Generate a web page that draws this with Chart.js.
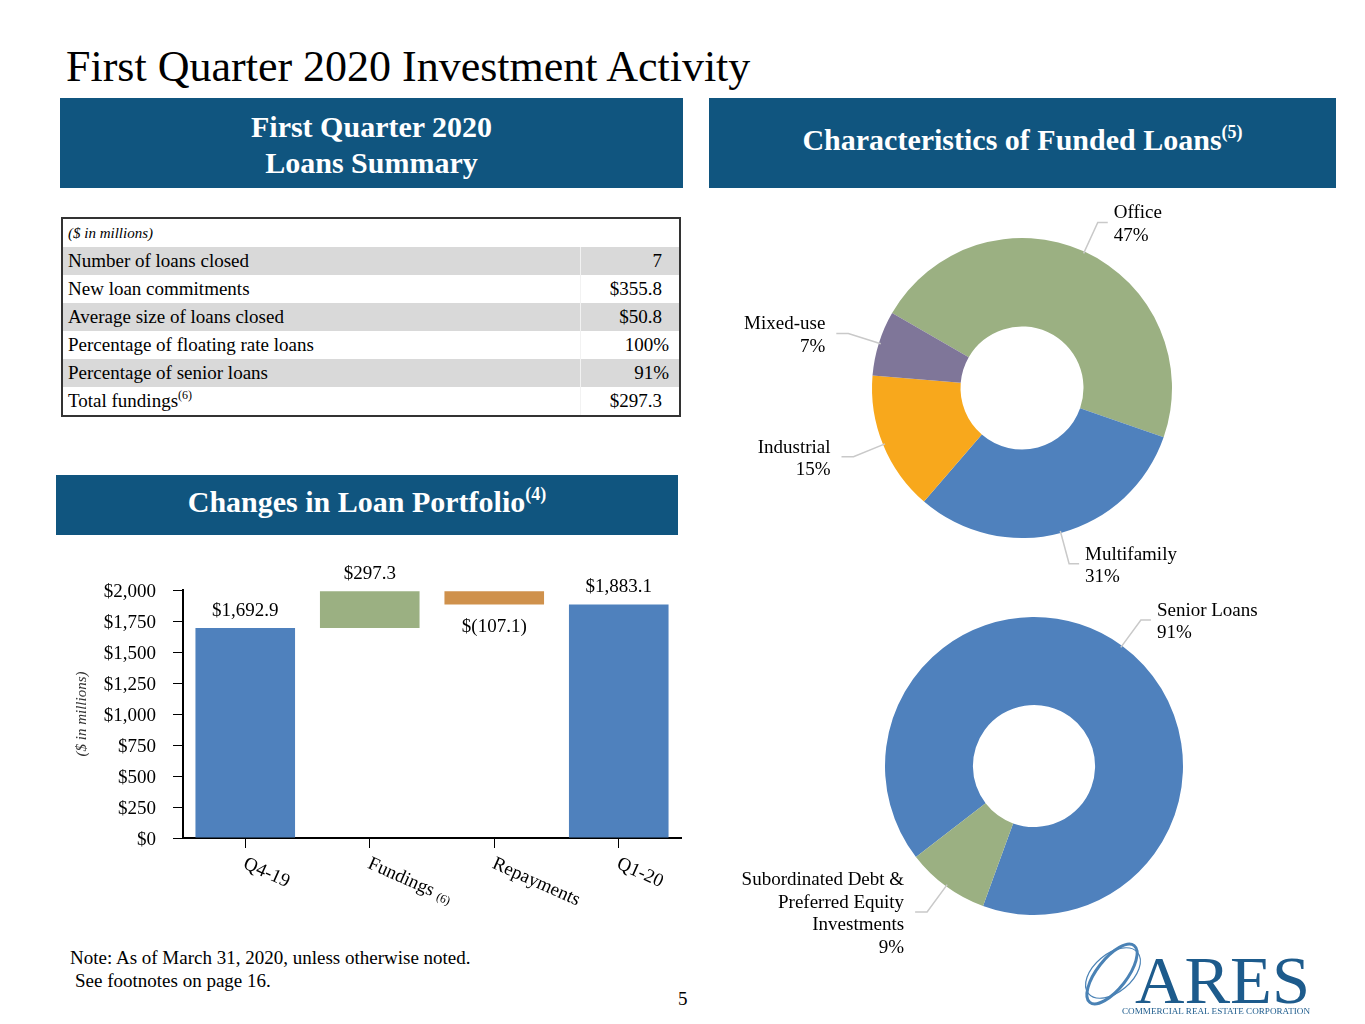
<!DOCTYPE html>
<html><head><meta charset="utf-8">
<script src="https://cdn.jsdelivr.net/npm/chart.js@4.4.1/dist/chart.umd.min.js"></script>
<style>
html,body{margin:0;padding:0;background:#fff;}
body{width:1365px;height:1024px;position:relative;overflow:hidden;font-family:"Liberation Serif","Times New Roman",serif;color:#000;}
.abs{position:absolute;}
.title{left:66px;top:41px;font-size:44px;line-height:52px;white-space:nowrap;}
.hdr{position:absolute;box-sizing:border-box;background:#10557f;color:#fff;font-weight:bold;font-size:30px;text-align:center;display:flex;flex-direction:column;justify-content:center;white-space:nowrap;}
.hdr sup{font-size:18px;vertical-align:12px;line-height:0;}
table.sum{position:absolute;left:61px;top:217px;width:620px;border:2px solid #333;border-collapse:collapse;font-size:19px;}
table.sum td{padding:0 0 0 5px;height:28px;line-height:28px;white-space:nowrap;}
table.sum td.v{text-align:right;padding:0 17px 0 0;width:81px;border-left:1px solid #f2f2f2;}
table.sum td.p{padding-right:10px;width:88px;}
table.sum tr.sh td{background:#d9d9d9;}
table.sum td.hd{font-style:italic;font-size:15px;}
table.sum sup{font-size:12px;vertical-align:8px;line-height:0;}
.note{font-size:19px;white-space:nowrap;}
canvas{position:absolute;}
</style>
</head><body>
<div class="abs title">First Quarter 2020 Investment Activity</div>
<div class="hdr" style="left:60px;top:98px;width:623px;height:90px;line-height:36px;padding-top:4px;"><div>First Quarter 2020</div><div>Loans Summary</div></div>
<div class="hdr" style="left:709px;top:98px;width:627px;height:90px;padding-bottom:6px;"><div>Characteristics of Funded Loans<sup>(5)</sup></div></div>
<div class="hdr" style="left:56px;top:475px;width:622px;height:60px;padding-bottom:6px;"><div>Changes in Loan Portfolio<sup>(4)</sup></div></div>

<table class="sum" id="sumTable"></table>

<canvas id="bar" width="630" height="365" style="left:60px;top:555px;"></canvas>
<canvas id="d1" width="627" height="395" style="left:709px;top:195px;"></canvas>
<canvas id="d2" width="627" height="365" style="left:709px;top:595px;"></canvas>

<div class="abs note" style="left:70px;top:947px;">Note: As of March 31, 2020, unless otherwise noted.</div>
<div class="abs note" style="left:75px;top:970px;">See footnotes on page 16.</div>
<div class="abs note" style="left:678px;top:988px;">5</div>

<svg class="abs" style="left:1078px;top:935px" width="250" height="85" viewBox="0 0 250 85">
 <g fill="none" stroke="#4a82b5">
  <ellipse cx="34" cy="39" rx="15" ry="36" transform="rotate(38 34 39)" stroke-width="3"/>
  <ellipse cx="35" cy="38" rx="19" ry="32" transform="rotate(50 35 38)" stroke-width="1.2"/>
 </g>
 <text x="57" y="68" font-family="Liberation Serif" font-size="68" fill="#1d5b8c" textLength="175" lengthAdjust="spacingAndGlyphs">ARES</text>
 <text x="44" y="79" font-family="Liberation Serif" font-size="7.5" fill="#1d5b8c" textLength="188" lengthAdjust="spacingAndGlyphs">COMMERCIAL REAL ESTATE CORPORATION</text>
</svg>

<script>
// ---------- Loans summary table ----------
const summaryLabels = ['Number of loans closed','New loan commitments','Average size of loans closed','Percentage of floating rate loans','Percentage of senior loans','Total fundings'];
const summaryValues = ['7','$355.8','$50.8','100%','91%','$297.3'];
const summaryNotes = ['','','','','','(6)'];

// ---------- Changes in loan portfolio ----------
const barCategories = ['Q4-19','Fundings','Repayments','Q1-20'];
const barCategoryNotes = ['','(6)','',''];
const barValues = [1692.9, 297.3, -107.1, 1883.1];
const barIsTotal = [true, false, false, true];
const barColors = ['#4f81bd','#9bb082','#cf914c','#4f81bd'];
const yTicksMax = 2000;
const yTicksStep = 250;

// ---------- Characteristics of funded loans ----------
const propertyTypes = [['Office'],['Multifamily'],['Industrial'],['Mixed-use']];
const propertyPct = [47, 31, 15, 7];
const propertyColors = ['#9bb082','#4f81bd','#f8a81c','#7f7699'];

const loanTypes = [['Senior Loans'],['Subordinated Debt &','Preferred Equity','Investments']];
const loanTypePct = [91, 9];
const loanTypeColors = ['#4f81bd','#9bb082'];

// build table
(function(){
  const t = document.getElementById('sumTable');
  let html = '<tr><td class="hd" colspan="2">($ in millions)</td></tr>';
  summaryLabels.forEach((l,i)=>{
    const pc = summaryValues[i].endsWith('%') ? ' p' : '';
    const note = summaryNotes[i] ? '<sup>'+summaryNotes[i]+'</sup>' : '';
    html += '<tr class="'+(i%2===0?'sh':'')+'"><td>'+l+note+'</td><td class="v'+pc+'">'+summaryValues[i]+'</td></tr>';
  });
  t.innerHTML = html;
})();

const FONT = '"Liberation Serif", "Times New Roman", serif';

// floating data for waterfall
const floatData = [];
let running = 0;
barValues.forEach((v,i)=>{
  if (barIsTotal[i]) { floatData.push([0, v]); running = v; }
  else { floatData.push([running, running + v]); running += v; }
});
function fmtMoney(v){
  if (v < 0) return '$(' + Math.abs(v).toFixed(1) + ')';
  return '$' + v.toLocaleString('en-US',{minimumFractionDigits:1, maximumFractionDigits:1});
}

const barLabelPlugin = {
  id:'barLabels',
  afterDatasetsDraw(chart){
    const ctx = chart.ctx;
    const meta = chart.getDatasetMeta(0);
    ctx.save();
    ctx.font = '19px ' + FONT;
    ctx.fillStyle = '#000';
    ctx.textAlign = 'center';
    ctx.textBaseline = 'middle';
    meta.data.forEach((bar,i)=>{
      const top = Math.min(bar.y, bar.base), bot = Math.max(bar.y, bar.base);
      const y = barValues[i] < 0 ? bot + 23 : top - 17;
      ctx.fillText(fmtMoney(barValues[i]), bar.x, y);
    });
    ctx.restore();
  },
  afterDraw(chart){
    const ctx = chart.ctx;
    const xs = chart.scales.x;
    const ang = 24 * Math.PI / 180;
    ctx.save();
    ctx.fillStyle = '#000';
    ctx.textAlign = 'left';
    ctx.textBaseline = 'middle';
    barCategories.forEach((c,i)=>{
      const x = xs.getPixelForValue(i);
      ctx.save();
      ctx.translate(x - 1, chart.chartArea.bottom + 25);
      ctx.rotate(ang);
      ctx.font = '19px ' + FONT;
      ctx.fillText(c, 0, 0);
      if (barCategoryNotes[i]) {
        const w = ctx.measureText(c).width;
        ctx.font = '12px ' + FONT;
        ctx.fillText(barCategoryNotes[i], w + 5, 3);
      }
      ctx.restore();
    });
    ctx.restore();
  }
};

new Chart(document.getElementById('bar'), {
  type:'bar',
  data:{
    labels: barCategories,
    datasets:[{data: floatData, backgroundColor: barColors, borderWidth:0, barPercentage:0.8, categoryPercentage:1.0}]
  },
  options:{
    responsive:false, animation:false,
    layout:{padding:{top:35, right:9, left:0, bottom:0}},
    plugins:{legend:{display:false}, tooltip:{enabled:false}},
    scales:{
      x:{
        grid:{display:true, drawOnChartArea:false, drawTicks:true, tickLength:10, offset:false, color:'#000', lineWidth:1},
        border:{display:true, color:'#000', width:2},
        ticks:{color:'rgba(0,0,0,0)', maxRotation:0, autoSkip:false, font:{family:FONT, size:19}},
        afterFit(s){ s.height = 82; }
      },
      y:{
        min:0, max:yTicksMax,
        grid:{display:true, drawOnChartArea:false, drawTicks:true, tickLength:10, color:'#000', lineWidth:1},
        border:{display:true, color:'#000', width:2},
        ticks:{stepSize:yTicksStep, padding:17, labelOffset:2, color:'#000', font:{family:FONT, size:19},
          callback:v=>'$'+Number(v).toLocaleString('en-US')},
        title:{display:true, text:'($ in millions)', color:'#333', padding:{top:13,bottom:0}, font:{family:FONT, size:15, style:'italic'}},
        afterFit(s){ s.width = 123; }
      }
    }
  },
  plugins:[barLabelPlugin]
});

// doughnut leader labels
const leaderPlugin = {
  id:'leaders',
  afterDatasetsDraw(chart, args, opts){
    const ctx = chart.ctx;
    const meta = chart.getDatasetMeta(0);
    const names = opts.names, pcts = opts.pcts;
    meta.data.forEach((arc,i)=>{
      const p = arc.getProps(['x','y','startAngle','endAngle','outerRadius'], true);
      const mid = (p.startAngle + p.endAngle)/2;
      const c = Math.cos(mid), s = Math.sin(mid);
      const r0 = p.outerRadius - 2, r1 = p.outerRadius + 32;
      const ex = p.x + c*r1, ey = p.y + s*r1;
      const side = c >= 0 ? 1 : -1;
      const hx = ex + side*(side > 0 ? 10 : 12);
      ctx.save();
      ctx.strokeStyle = '#c9c9c9'; ctx.lineWidth = 1.5;
      ctx.beginPath();
      ctx.moveTo(p.x + c*r0, p.y + s*r0);
      ctx.lineTo(ex, ey); ctx.lineTo(hx, ey);
      ctx.stroke();
      ctx.font = '19px ' + FONT; ctx.fillStyle = '#000';
      ctx.textAlign = side > 0 ? 'left' : 'right';
      ctx.textBaseline = 'middle';
      const lines = names[i].concat([pcts[i] + '%']);
      const tx = hx + side*(side > 0 ? 6 : 11);
      const lh = 22.5;
      lines.forEach((t,k)=> ctx.fillText(t, tx, ey + 2 + (k - (lines.length-1)/2)*lh));
      ctx.restore();
    });
  }
};

function makeDonut(id, names, pcts, colors, rotation, padding){
  new Chart(document.getElementById(id), {
    type:'doughnut',
    data:{labels: names.map(n=>n.join(' ')), datasets:[{data:pcts, backgroundColor:colors, borderWidth:0}]},
    options:{
      responsive:false, animation:false, cutout:'41%', rotation: rotation,
      layout:{padding: padding},
      plugins:{legend:{display:false}, tooltip:{enabled:false}, leaders:{names:names, pcts:pcts}}
    },
    plugins:[leaderPlugin]
  });
}
makeDonut('d1', propertyTypes, propertyPct, propertyColors, -60, {left:163, right:164, top:43, bottom:52});
makeDonut('d2', loanTypes, loanTypePct, loanTypeColors, 232.4, {left:176, right:153, top:22, bottom:45});
</script>
</body></html>
